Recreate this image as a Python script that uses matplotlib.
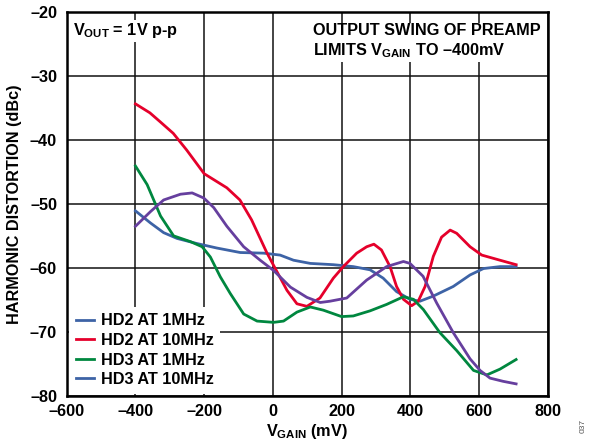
import numpy as np
import matplotlib
matplotlib.use('Agg')
import matplotlib.pyplot as plt
from matplotlib.lines import Line2D
from matplotlib.ticker import FuncFormatter

plt.rcParams['font.family'] = 'Liberation Sans'
plt.rcParams['font.weight'] = 'bold'
plt.rcParams['mathtext.fontset'] = 'custom'
plt.rcParams['mathtext.rm'] = 'Liberation Sans:bold'
plt.rcParams['mathtext.bf'] = 'Liberation Sans:bold'
plt.rcParams['mathtext.it'] = 'Liberation Sans:bold'

# HD2 at 1MHz
hd2_1_x = [-400, -356, -318, -279, -221, -163, -95, -27, 21, 60, 109, 176, 234, 283,
           321, 360, 399, 428, 467, 525, 574, 613, 661, 708]
hd2_1_y = [-51.1, -53.0, -54.5, -55.4, -56.2, -56.9, -57.6, -57.7, -58.0, -58.8, -59.3,
           -59.5, -59.8, -60.3, -61.6, -63.7, -64.9, -65.2, -64.4, -62.9, -61.1, -60.1,
           -59.8, -59.8]

# HD2 at 10MHz
hd2_10_x = [-400, -358, -328, -290, -251, -200, -134, -96, -62, -17, 2, 41, 70, 99, 137,
            176, 205, 244, 273, 294, 316, 341, 360, 380, 404, 423, 443, 467, 491, 516,
            535, 574, 608, 661, 708]
hd2_10_y = [-34.4, -35.8, -37.2, -39.0, -41.6, -45.3, -47.5, -49.4, -52.5, -57.7, -59.6,
            -63.5, -65.6, -66.0, -64.7, -61.6, -59.8, -57.7, -56.7, -56.3, -57.2, -59.8,
            -62.9, -64.9, -65.9, -65.2, -62.9, -58.2, -55.2, -54.1, -54.6, -56.7, -58.0,
            -58.8, -59.5]

# HD3 at 1MHz
hd3_1_x = [-400, -366, -327, -289, -240, -206, -182, -153, -124, -85, -46, 2, 31, 70, 109,
           147, 200, 234, 283, 331, 380, 409, 438, 486, 535, 584, 623, 661, 708]
hd3_1_y = [-44.1, -47.0, -51.9, -55.0, -55.9, -56.7, -58.3, -61.4, -64.0, -67.2, -68.3,
           -68.5, -68.3, -66.9, -66.1, -66.6, -67.6, -67.5, -66.7, -65.7, -64.5, -64.9,
           -66.5, -70.1, -72.9, -76.0, -76.7, -75.8, -74.3]

# HD3 at 10MHz
hd3_10_x = [-400, -356, -318, -269, -235, -201, -172, -134, -85, -37, 2, 51, 99, 138, 166,
            215, 273, 331, 380, 399, 437, 477, 525, 574, 603, 632, 670, 708]
hd3_10_y = [-53.5, -51.2, -49.4, -48.5, -48.3, -49.1, -50.6, -53.5, -56.7, -58.8, -60.4,
            -63.0, -64.6, -65.4, -65.2, -64.7, -61.9, -59.8, -59.0, -59.3, -61.3, -65.5,
            -70.1, -74.2, -76.0, -77.2, -77.7, -78.1]

labels = ['HD2 AT 1MHz', 'HD2 AT 10MHz', 'HD3 AT 1MHz', 'HD3 AT 10MHz']
blue = '#3d63a6'
red = '#e5002b'
green = '#00873f'
purple = '#663f9e'
fs = 11.7

fig = plt.figure(figsize=(5.96, 4.46), dpi=100)
ax = fig.add_axes([0.112, 0.112, 0.807, 0.862])

lw = 2.0
ax.plot(hd2_1_x, hd2_1_y, color=blue, lw=lw, zorder=3)
ax.plot(hd2_10_x, hd2_10_y, color=red, lw=lw, zorder=3)
ax.plot(hd3_1_x, hd3_1_y, color=green, lw=lw, zorder=3)
ax.plot(hd3_10_x, hd3_10_y, color=purple, lw=lw, zorder=3)

ax.set_xlim(-600, 800)
ax.set_ylim(-80, -20)
ax.set_xticks(np.arange(-600, 801, 200))
ax.set_yticks(np.arange(-80, -19, 10))
dash = FuncFormatter(lambda v, p: ('\u2013%d' % abs(v)) if v < 0 else '%d' % v)
ax.xaxis.set_major_formatter(dash)
ax.yaxis.set_major_formatter(dash)
ax.tick_params(length=0, labelsize=fs)
ax.tick_params(axis='x', pad=6)
ax.tick_params(axis='y', pad=7)
ax.grid(True, color='#111111', lw=1.1, zorder=1)
for s in ax.spines.values():
    s.set_linewidth(1.8)

ax.set_xlabel('V$_{GAIN}$ (mV)', fontsize=fs, fontweight='bold', labelpad=2)
ax.set_ylabel('HARMONIC DISTORTION (dBc)', fontsize=fs, fontweight='bold', labelpad=6)

ax.text(0.012, 0.95, 'V$_{OUT}$ = 1V p-p', transform=ax.transAxes, fontsize=fs,
        fontweight='bold', va='center', ha='left', zorder=4,
        bbox=dict(facecolor='white', edgecolor='none', pad=1))
ax.text(0.985, 0.922, 'OUTPUT SWING OF PREAMP\nLIMITS V$_{GAIN}$ TO \u2013400mV',
        transform=ax.transAxes, fontsize=fs, fontweight='bold', va='center', ha='right',
        multialignment='left', linespacing=1.25, zorder=4,
        bbox=dict(facecolor='white', edgecolor='none', pad=1))

handles = [Line2D([], [], color=c, lw=lw) for c in [blue, red, green, blue]]
leg = ax.legend(handles, labels, loc='lower left', bbox_to_anchor=(0.0, 0.0),
                frameon=True, fancybox=False, framealpha=1, edgecolor='none',
                fontsize=fs, handlelength=1.1, handletextpad=0.45, labelspacing=0.28,
                borderpad=0.4, borderaxespad=0.15)
leg.set_zorder(5)

fig.text(0.978, 0.045, '037', rotation=90, fontsize=6, color='#555555',
         fontweight='normal', ha='center', va='center')

fig.savefig('out.png', dpi=100)
